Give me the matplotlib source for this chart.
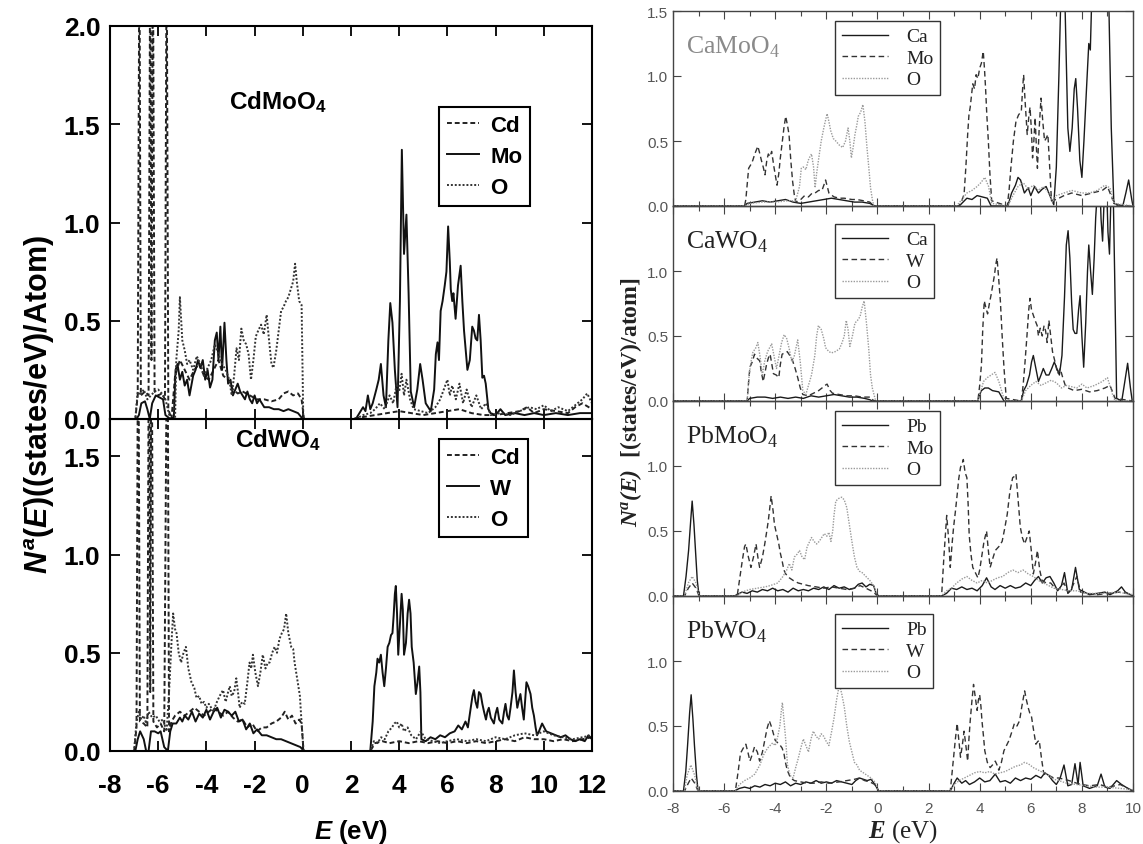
import numpy as np
import matplotlib.pyplot as plt
from matplotlib.ticker import MultipleLocator
from matplotlib.font_manager import FontProperties

plt.rcParams['font.family'] = 'Liberation Sans'
plt.rcParams['mathtext.fontset'] = 'custom'
plt.rcParams['mathtext.rm'] = 'Liberation Sans:bold'
plt.rcParams['mathtext.it'] = 'Liberation Sans:italic:bold'
plt.rcParams['mathtext.sf'] = 'Liberation Serif:italic:bold'
plt.rcParams['mathtext.bf'] = 'Liberation Serif'

# ---------------- data: left figure (E in eV, N in states/eV/atom) ----------------
cdmoo4_cd = [(-8, 0), (-6.95, 0), (-6.85, 0.12), (-6.78, 2.5), (-6.72, 0.12), (-6.55, 0.14), (-6.4, 0.12),
             (-6.33, 2.5), (-6.28, 0.3), (-6.22, 2.5), (-6.15, 0.14), (-6.0, 0.12), (-5.85, 0.13), (-5.72, 0.1),
             (-5.65, 2.5), (-5.58, 0.05), (-5.45, 0.0), (-5.3, 0.22), (-5.1, 0.3), (-4.9, 0.25), (-4.7, 0.2),
             (-4.5, 0.25), (-4.3, 0.28), (-4.1, 0.22), (-3.9, 0.2), (-3.7, 0.25), (-3.5, 0.3), (-3.3, 0.22),
             (-3.1, 0.2), (-2.9, 0.15), (-2.7, 0.13), (-2.5, 0.14), (-2.2, 0.12), (-1.9, 0.1), (-1.6, 0.1),
             (-1.3, 0.09), (-1.0, 0.1), (-0.8, 0.13), (-0.6, 0.14), (-0.4, 0.12), (-0.2, 0.13), (-0.05, 0.1),
             (0.05, 0), (2.0, 0), (2.5, 0.01), (3.0, 0.02), (3.5, 0.03), (4.0, 0.04), (4.5, 0.03), (5.0, 0.02),
             (5.5, 0.03), (6.0, 0.04), (6.5, 0.05), (7.0, 0.03), (7.5, 0.02), (8.0, 0.02), (8.5, 0.03),
             (9.0, 0.04), (9.3, 0.06), (9.6, 0.03), (10.0, 0.05), (10.5, 0.04), (11.0, 0.03), (11.3, 0.06),
             (11.6, 0.08), (12, 0.05)]
cdmoo4_mo = [(-8, 0), (-6.9, 0), (-6.8, 0.02), (-6.7, 0.08), (-6.55, 0.09), (-6.45, 0.05), (-6.35, 0.0),
             (-6.25, 0.08), (-6.1, 0.12), (-5.95, 0.11), (-5.8, 0.1), (-5.7, 0.02), (-5.5, 0.0), (-5.35, 0.01),
             (-5.28, 0.25), (-5.2, 0.28), (-5.1, 0.2), (-5.0, 0.24), (-4.9, 0.17), (-4.8, 0.2), (-4.7, 0.12),
             (-4.55, 0.22), (-4.45, 0.25), (-4.35, 0.3), (-4.25, 0.26), (-4.15, 0.3), (-4.05, 0.2), (-3.95, 0.25),
             (-3.85, 0.16), (-3.75, 0.2), (-3.65, 0.4), (-3.57, 0.44), (-3.5, 0.3), (-3.42, 0.47), (-3.35, 0.25),
             (-3.25, 0.49), (-3.17, 0.3), (-3.1, 0.18), (-3.0, 0.2), (-2.9, 0.12), (-2.8, 0.15), (-2.7, 0.18),
             (-2.6, 0.14), (-2.5, 0.12), (-2.4, 0.1), (-2.3, 0.14), (-2.2, 0.1), (-2.1, 0.08), (-2.0, 0.12),
             (-1.9, 0.08), (-1.8, 0.1), (-1.6, 0.06), (-1.4, 0.06), (-1.2, 0.05), (-1.0, 0.05), (-0.8, 0.04),
             (-0.6, 0.05), (-0.4, 0.04), (-0.2, 0.03), (0, 0.0), (2.2, 0), (2.35, 0.03), (2.5, 0.06), (2.6, 0.04),
             (2.7, 0.12), (2.8, 0.05), (2.9, 0.08), (3.05, 0.15), (3.15, 0.2), (3.24, 0.28), (3.35, 0.12),
             (3.45, 0.06), (3.55, 0.4), (3.63, 0.59), (3.72, 0.49), (3.82, 0.25), (3.93, 0.06), (4.03, 0.6),
             (4.11, 1.37), (4.2, 0.84), (4.3, 1.04), (4.39, 0.64), (4.48, 0.14), (4.62, 0.06), (4.75, 0.15),
             (4.87, 0.28), (4.97, 0.2), (5.1, 0.08), (5.31, 0.04), (5.45, 0.15), (5.52, 0.33), (5.59, 0.39),
             (5.65, 0.3), (5.72, 0.55), (5.8, 0.6), (5.89, 0.68), (5.96, 0.75), (6.03, 0.98), (6.1, 0.8),
             (6.14, 0.66), (6.2, 0.6), (6.25, 0.64), (6.34, 0.51), (6.44, 0.68), (6.55, 0.78), (6.62, 0.6),
             (6.69, 0.45), (6.76, 0.35), (6.83, 0.25), (6.93, 0.3), (7.03, 0.47), (7.1, 0.45), (7.17, 0.41),
             (7.24, 0.4), (7.31, 0.53), (7.38, 0.4), (7.45, 0.21), (7.52, 0.22), (7.59, 0.18), (7.7, 0.05),
             (7.79, 0.03), (8.0, 0.02), (8.2, 0.05), (8.4, 0.02), (8.8, 0.03), (9.2, 0.02), (9.6, 0.03),
             (10.0, 0.02), (10.5, 0.03), (11.0, 0.02), (11.5, 0.03), (12, 0.03)]
cdmoo4_o = [(-8, 0), (-6.95, 0), (-6.85, 0.14), (-6.75, 0.12), (-6.6, 0.15), (-6.45, 0.1), (-6.3, 0.12),
            (-6.15, 0.14), (-6.0, 0.15), (-5.85, 0.13), (-5.7, 0.1), (-5.5, 0.0), (-5.3, 0.0), (-5.25, 0.3),
            (-5.15, 0.45), (-5.1, 0.62), (-5.0, 0.4), (-4.9, 0.35), (-4.8, 0.28), (-4.7, 0.3), (-4.55, 0.25),
            (-4.4, 0.32), (-4.25, 0.28), (-4.1, 0.22), (-3.95, 0.26), (-3.8, 0.3), (-3.65, 0.38), (-3.5, 0.33),
            (-3.35, 0.28), (-3.2, 0.25), (-3.05, 0.2), (-2.95, 0.12), (-2.85, 0.22), (-2.75, 0.36), (-2.65, 0.3),
            (-2.55, 0.46), (-2.45, 0.4), (-2.35, 0.38), (-2.25, 0.33), (-2.15, 0.2), (-2.05, 0.3), (-1.95, 0.42),
            (-1.85, 0.45), (-1.73, 0.48), (-1.62, 0.43), (-1.5, 0.53), (-1.4, 0.4), (-1.3, 0.28), (-1.22, 0.26),
            (-1.1, 0.35), (-1.0, 0.45), (-0.9, 0.55), (-0.8, 0.57), (-0.7, 0.6), (-0.6, 0.62), (-0.5, 0.66),
            (-0.4, 0.7), (-0.32, 0.79), (-0.25, 0.7), (-0.15, 0.6), (-0.05, 0.58), (0.02, 0.0), (2.2, 0),
            (2.5, 0.02), (2.8, 0.03), (3.0, 0.05), (3.2, 0.08), (3.4, 0.05), (3.6, 0.12), (3.75, 0.08),
            (3.9, 0.18), (4.0, 0.14), (4.1, 0.23), (4.2, 0.12), (4.3, 0.2), (4.45, 0.1), (4.6, 0.05), (4.9, 0.04),
            (5.2, 0.03), (5.5, 0.06), (5.7, 0.1), (5.85, 0.15), (6.0, 0.2), (6.1, 0.12), (6.2, 0.17), (6.35, 0.1),
            (6.5, 0.18), (6.65, 0.08), (6.8, 0.15), (7.0, 0.06), (7.2, 0.12), (7.4, 0.05), (7.6, 0.08),
            (7.8, 0.02), (8.2, 0.03), (8.6, 0.02), (9.0, 0.04), (9.4, 0.06), (9.7, 0.05), (10.0, 0.07),
            (10.3, 0.04), (10.6, 0.06), (11.0, 0.04), (11.3, 0.07), (11.6, 0.1), (11.8, 0.13), (12, 0.08)]

cdwo4_cd = [(-8, 0), (-7.0, 0), (-6.9, 0.12), (-6.83, 2.5), (-6.76, 0.15), (-6.6, 0.14), (-6.45, 0.12),
            (-6.38, 2.5), (-6.33, 0.3), (-6.28, 2.5), (-6.2, 0.15), (-6.05, 0.12), (-5.9, 0.14), (-5.75, 0.1),
            (-5.62, 2.5), (-5.55, 0.1), (-5.45, 0.15), (-5.3, 0.18), (-5.1, 0.2), (-4.9, 0.18), (-4.7, 0.2),
            (-4.5, 0.22), (-4.3, 0.2), (-4.1, 0.18), (-3.9, 0.2), (-3.7, 0.22), (-3.5, 0.2), (-3.3, 0.18),
            (-3.1, 0.2), (-2.9, 0.17), (-2.7, 0.15), (-2.5, 0.16), (-2.3, 0.12), (-2.1, 0.14), (-1.9, 0.1),
            (-1.7, 0.12), (-1.5, 0.12), (-1.3, 0.14), (-1.1, 0.15), (-0.9, 0.17), (-0.75, 0.2), (-0.6, 0.16),
            (-0.45, 0.18), (-0.3, 0.14), (-0.15, 0.16), (-0.05, 0.14), (0.03, 0.0), (2.8, 0), (3.0, 0.04),
            (3.3, 0.05), (3.6, 0.04), (4.0, 0.05), (4.4, 0.04), (4.8, 0.05), (5.2, 0.04), (5.6, 0.05), (6.0, 0.04),
            (6.4, 0.05), (6.8, 0.04), (7.2, 0.05), (7.6, 0.04), (8.0, 0.05), (8.4, 0.06), (8.8, 0.05),
            (9.2, 0.07), (9.6, 0.06), (10.0, 0.06), (10.4, 0.05), (10.8, 0.06), (11.2, 0.05), (11.6, 0.06),
            (12, 0.07)]
cdwo4_w = [(-8, 0), (-6.95, 0), (-6.85, 0.06), (-6.75, 0.1), (-6.6, 0.06), (-6.5, 0.0), (-6.4, 0.0), (-6.3, 0.1),
           (-6.15, 0.1), (-6.0, 0.09), (-5.9, 0.1), (-5.75, 0.02), (-5.6, 0.0), (-5.5, 0.1), (-5.4, 0.14),
           (-5.25, 0.14), (-5.1, 0.17), (-5.0, 0.15), (-4.9, 0.18), (-4.75, 0.16), (-4.6, 0.2), (-4.45, 0.15),
           (-4.3, 0.19), (-4.15, 0.17), (-4.0, 0.21), (-3.85, 0.16), (-3.7, 0.2), (-3.55, 0.22), (-3.4, 0.17),
           (-3.25, 0.21), (-3.1, 0.2), (-2.95, 0.18), (-2.8, 0.2), (-2.65, 0.15), (-2.5, 0.16), (-2.35, 0.11),
           (-2.2, 0.14), (-2.05, 0.09), (-1.9, 0.11), (-1.7, 0.08), (-1.5, 0.08), (-1.3, 0.07), (-1.1, 0.06),
           (-0.9, 0.06), (-0.7, 0.05), (-0.5, 0.04), (-0.3, 0.03), (-0.1, 0.02), (0.05, 0.0), (2.8, 0),
           (2.9, 0.15), (2.97, 0.33), (3.05, 0.4), (3.1, 0.47), (3.17, 0.45), (3.24, 0.49), (3.31, 0.4),
           (3.38, 0.33), (3.45, 0.42), (3.52, 0.53), (3.59, 0.55), (3.66, 0.59), (3.72, 0.6), (3.77, 0.69),
           (3.82, 0.8), (3.86, 0.84), (3.91, 0.7), (3.96, 0.49), (4.03, 0.65), (4.1, 0.8), (4.15, 0.72),
           (4.2, 0.49), (4.28, 0.55), (4.35, 0.7), (4.41, 0.77), (4.47, 0.7), (4.52, 0.53), (4.6, 0.45),
           (4.69, 0.29), (4.76, 0.35), (4.83, 0.43), (4.88, 0.3), (4.92, 0.06), (5.1, 0.05), (5.3, 0.07),
           (5.5, 0.06), (5.7, 0.08), (5.9, 0.07), (6.1, 0.09), (6.3, 0.1), (6.45, 0.13), (6.6, 0.11),
           (6.75, 0.15), (6.85, 0.12), (6.97, 0.22), (7.04, 0.28), (7.1, 0.31), (7.17, 0.25), (7.24, 0.22),
           (7.31, 0.3), (7.38, 0.29), (7.45, 0.24), (7.52, 0.2), (7.6, 0.16), (7.66, 0.2), (7.72, 0.22),
           (7.8, 0.17), (7.93, 0.14), (8.0, 0.19), (8.07, 0.22), (8.15, 0.16), (8.28, 0.14), (8.35, 0.2),
           (8.41, 0.24), (8.48, 0.18), (8.55, 0.16), (8.62, 0.22), (8.7, 0.3), (8.76, 0.41), (8.83, 0.3),
           (8.9, 0.22), (8.97, 0.26), (9.03, 0.29), (9.1, 0.22), (9.17, 0.16), (9.22, 0.25), (9.28, 0.35),
           (9.35, 0.33), (9.45, 0.29), (9.52, 0.22), (9.59, 0.18), (9.66, 0.12), (9.72, 0.08), (9.8, 0.1),
           (9.93, 0.14), (10.1, 0.1), (10.3, 0.09), (10.5, 0.08), (10.7, 0.07), (10.9, 0.08), (11.1, 0.06),
           (11.3, 0.05), (11.5, 0.06), (11.7, 0.05), (11.85, 0.08), (12, 0.06)]
cdwo4_o = [(-8, 0), (-7.0, 0), (-6.9, 0.15), (-6.8, 0.2), (-6.7, 0.16), (-6.6, 0.18), (-6.5, 0.14), (-6.4, 0.2),
           (-6.25, 0.17), (-6.1, 0.18), (-5.95, 0.15), (-5.8, 0.16), (-5.65, 0.1), (-5.55, 0.3), (-5.45, 0.55),
           (-5.38, 0.7), (-5.3, 0.62), (-5.24, 0.6), (-5.15, 0.5), (-5.05, 0.45), (-4.95, 0.5), (-4.85, 0.53),
           (-4.75, 0.42), (-4.62, 0.35), (-4.5, 0.32), (-4.41, 0.27), (-4.3, 0.28), (-4.2, 0.24), (-4.1, 0.25),
           (-4.0, 0.22), (-3.9, 0.24), (-3.8, 0.22), (-3.7, 0.2), (-3.6, 0.24), (-3.45, 0.28), (-3.31, 0.31),
           (-3.2, 0.25), (-3.1, 0.3), (-3.03, 0.33), (-2.95, 0.28), (-2.85, 0.3), (-2.76, 0.37), (-2.69, 0.3),
           (-2.62, 0.22), (-2.52, 0.25), (-2.41, 0.24), (-2.3, 0.35), (-2.21, 0.45), (-2.14, 0.42),
           (-2.07, 0.49), (-1.97, 0.4), (-1.86, 0.33), (-1.76, 0.4), (-1.66, 0.49), (-1.55, 0.42), (-1.45, 0.45),
           (-1.38, 0.45), (-1.27, 0.5), (-1.17, 0.53), (-1.07, 0.5), (-0.97, 0.57), (-0.87, 0.6), (-0.78, 0.62),
           (-0.69, 0.7), (-0.6, 0.6), (-0.48, 0.53), (-0.4, 0.52), (-0.34, 0.45), (-0.21, 0.35), (-0.12, 0.28),
           (-0.07, 0.18), (0.03, 0.0), (2.8, 0), (2.95, 0.05), (3.1, 0.04), (3.25, 0.07), (3.4, 0.06),
           (3.55, 0.1), (3.7, 0.12), (3.8, 0.14), (3.9, 0.15), (4.0, 0.12), (4.1, 0.14), (4.2, 0.1), (4.35, 0.12),
           (4.5, 0.08), (4.7, 0.06), (4.9, 0.1), (5.1, 0.06), (5.4, 0.05), (5.7, 0.04), (6.0, 0.05), (6.4, 0.06),
           (6.8, 0.05), (7.2, 0.06), (7.6, 0.05), (8.0, 0.07), (8.4, 0.06), (8.8, 0.08), (9.2, 0.09),
           (9.6, 0.08), (10.0, 0.1), (10.4, 0.08), (10.8, 0.07), (11.2, 0.06), (11.6, 0.07), (12, 0.08)]

# ---------------- data: right figure ----------------
camoo4_ca = [(-8, 0), (-5.2, 0), (-5.1, 0.02), (-4.8, 0.03), (-4.5, 0.04), (-4.2, 0.03), (-3.9, 0.04), (-3.6, 0.05),
             (-3.3, 0.03), (-3.0, 0.02), (-2.7, 0.03), (-2.4, 0.04), (-2.1, 0.05), (-1.8, 0.06), (-1.5, 0.05),
             (-1.2, 0.04), (-0.9, 0.03), (-0.6, 0.03), (-0.3, 0.02), (-0.1, 0.0), (3.2, 0), (3.35, 0.03),
             (3.5, 0.06), (3.7, 0.05), (3.9, 0.08), (4.1, 0.07), (4.3, 0.06), (4.45, 0.0), (5.1, 0), (5.25, 0.1),
             (5.4, 0.16), (5.5, 0.22), (5.6, 0.2), (5.75, 0.1), (5.9, 0.14), (6.0, 0.08), (6.15, 0.15),
             (6.3, 0.1), (6.45, 0.13), (6.6, 0.15), (6.75, 0.08), (6.9, 0.01), (7.0, 0.3), (7.1, 1.0), (7.2, 1.8),
             (7.3, 1.9), (7.38, 1.2), (7.45, 0.6), (7.53, 0.42), (7.62, 0.6), (7.7, 0.9), (7.76, 0.98),
             (7.83, 0.75), (7.92, 0.35), (8.0, 0.22), (8.08, 0.5), (8.18, 0.9), (8.27, 1.25), (8.33, 1.2),
             (8.4, 1.7), (8.6, 2.0), (8.9, 2.0), (9.05, 1.6), (9.15, 0.6), (9.25, 0.02), (9.6, 0), (9.72, 0.1),
             (9.83, 0.2), (9.95, 0.05), (10, 0)]
camoo4_mo = [(-8, 0), (-5.2, 0), (-5.15, 0.05), (-5.04, 0.29), (-4.95, 0.32), (-4.88, 0.35), (-4.8, 0.4),
             (-4.68, 0.46), (-4.6, 0.4), (-4.54, 0.35), (-4.47, 0.3), (-4.4, 0.24), (-4.33, 0.35), (-4.27, 0.4),
             (-4.2, 0.38), (-4.14, 0.42), (-4.05, 0.3), (-3.93, 0.16), (-3.86, 0.25), (-3.8, 0.37), (-3.72, 0.5),
             (-3.66, 0.6), (-3.59, 0.69), (-3.52, 0.62), (-3.46, 0.55), (-3.39, 0.35), (-3.32, 0.19),
             (-3.25, 0.08), (-3.19, 0.03), (-3.0, 0.05), (-2.85, 0.08), (-2.7, 0.07), (-2.55, 0.1), (-2.44, 0.1),
             (-2.3, 0.12), (-2.17, 0.12), (-2.08, 0.17), (-2.03, 0.2), (-1.95, 0.14), (-1.9, 0.1), (-1.7, 0.07),
             (-1.5, 0.06), (-1.3, 0.06), (-1.0, 0.05), (-0.8, 0.05), (-0.54, 0.04), (-0.3, 0.03), (-0.14, 0.0),
             (3.19, 0), (3.3, 0.04), (3.39, 0.09), (3.46, 0.3), (3.53, 0.55), (3.58, 0.7), (3.63, 0.76),
             (3.68, 0.85), (3.73, 0.94), (3.8, 0.9), (3.86, 1.01), (3.93, 0.98), (4.0, 1.06), (4.07, 1.1),
             (4.14, 1.19), (4.19, 1.05), (4.23, 0.91), (4.28, 0.7), (4.34, 0.5), (4.4, 0.25), (4.47, 0.04),
             (5.08, 0), (5.15, 0.12), (5.22, 0.29), (5.32, 0.5), (5.42, 0.65), (5.52, 0.7), (5.63, 0.73),
             (5.68, 0.9), (5.72, 1.01), (5.78, 0.8), (5.86, 0.55), (5.92, 0.68), (5.97, 0.76), (6.02, 0.6),
             (6.07, 0.37), (6.12, 0.5), (6.17, 0.68), (6.22, 0.45), (6.26, 0.29), (6.33, 0.6), (6.4, 0.83),
             (6.47, 0.65), (6.54, 0.5), (6.6, 0.52), (6.67, 0.55), (6.74, 0.3), (6.81, 0.04), (7.0, 0.05),
             (7.3, 0.08), (7.6, 0.1), (8.0, 0.08), (8.4, 0.1), (8.8, 0.12), (9.0, 0.15), (9.2, 0.05), (9.4, 0.0),
             (10, 0)]
camoo4_o = [(-8, 0), (-5.2, 0), (-5.0, 0.02), (-4.5, 0.03), (-4.0, 0.03), (-3.5, 0.04), (-3.2, 0.04),
            (-3.05, 0.15), (-2.98, 0.29), (-2.9, 0.3), (-2.8, 0.28), (-2.71, 0.35), (-2.64, 0.38), (-2.58, 0.4),
            (-2.5, 0.3), (-2.44, 0.14), (-2.38, 0.25), (-2.31, 0.35), (-2.2, 0.5), (-2.1, 0.6), (-2.03, 0.66),
            (-1.97, 0.71), (-1.9, 0.65), (-1.83, 0.58), (-1.73, 0.52), (-1.63, 0.5), (-1.5, 0.47), (-1.36, 0.45),
            (-1.25, 0.5), (-1.15, 0.6), (-1.08, 0.5), (-1.02, 0.37), (-0.95, 0.45), (-0.88, 0.55), (-0.81, 0.62),
            (-0.75, 0.69), (-0.66, 0.72), (-0.57, 0.78), (-0.49, 0.65), (-0.41, 0.45), (-0.34, 0.3),
            (-0.27, 0.14), (-0.2, 0.05), (-0.14, 0.0), (3.1, 0), (3.3, 0.05), (3.5, 0.1), (3.7, 0.12),
            (3.9, 0.15), (4.05, 0.18), (4.2, 0.22), (4.35, 0.15), (4.47, 0.02), (5.1, 0), (5.3, 0.08),
            (5.5, 0.15), (5.7, 0.18), (5.9, 0.13), (6.1, 0.16), (6.3, 0.12), (6.5, 0.15), (6.7, 0.1),
            (6.85, 0.03), (7.0, 0.08), (7.3, 0.1), (7.6, 0.12), (8.0, 0.1), (8.3, 0.1), (8.6, 0.12), (8.9, 0.16),
            (9.1, 0.14), (9.25, 0.02), (10, 0)]

cawo4_ca = [(-8, 0), (-5.1, 0), (-5.0, 0.02), (-4.7, 0.03), (-4.4, 0.03), (-4.1, 0.02), (-3.8, 0.03), (-3.5, 0.02),
            (-3.2, 0.03), (-2.9, 0.02), (-2.6, 0.04), (-2.3, 0.03), (-2.0, 0.04), (-1.7, 0.05), (-1.4, 0.04),
            (-1.1, 0.03), (-0.8, 0.03), (-0.5, 0.02), (-0.3, 0.01), (-0.2, 0.0), (3.93, 0), (4.0, 0.05),
            (4.07, 0.08), (4.2, 0.1), (4.34, 0.1), (4.5, 0.08), (4.75, 0.07), (4.95, 0.0), (5.63, 0), (5.72, 0.08),
            (5.83, 0.12), (5.95, 0.2), (6.03, 0.3), (6.1, 0.35), (6.2, 0.25), (6.3, 0.15), (6.4, 0.2),
            (6.49, 0.25), (6.6, 0.2), (6.71, 0.2), (6.82, 0.25), (6.92, 0.3), (7.02, 0.25), (7.12, 0.2),
            (7.22, 0.35), (7.32, 0.8), (7.39, 1.2), (7.46, 1.31), (7.53, 1.1), (7.6, 0.75), (7.66, 0.55),
            (7.73, 0.52), (7.8, 0.52), (7.87, 0.7), (7.93, 0.81), (8.0, 0.5), (8.07, 0.26), (8.15, 0.6),
            (8.22, 1.0), (8.27, 1.2), (8.34, 1.0), (8.41, 0.82), (8.48, 1.1), (8.54, 1.41), (8.6, 1.6),
            (8.68, 1.8), (8.75, 1.4), (8.81, 1.23), (8.88, 1.6), (8.95, 1.8), (9.02, 1.3), (9.08, 1.13),
            (9.14, 1.6), (9.2, 1.9), (9.28, 1.0), (9.36, 0.02), (9.56, 0), (9.68, 0.15), (9.79, 0.29),
            (9.9, 0.1), (9.97, 0.0), (10, 0)]
cawo4_w = [(-8, 0), (-5.1, 0), (-5.04, 0.15), (-4.99, 0.26), (-4.9, 0.3), (-4.81, 0.36), (-4.72, 0.33),
           (-4.61, 0.31), (-4.54, 0.22), (-4.47, 0.15), (-4.4, 0.22), (-4.34, 0.28), (-4.27, 0.33), (-4.2, 0.36),
           (-4.13, 0.28), (-4.07, 0.21), (-3.96, 0.2), (-3.86, 0.18), (-3.8, 0.28), (-3.73, 0.36), (-3.63, 0.37),
           (-3.53, 0.38), (-3.43, 0.35), (-3.32, 0.31), (-3.22, 0.25), (-3.12, 0.18), (-3.02, 0.1), (-2.92, 0.05),
           (-2.71, 0.04), (-2.5, 0.06), (-2.3, 0.08), (-2.17, 0.1), (-2.05, 0.12), (-1.97, 0.13), (-1.85, 0.08),
           (-1.76, 0.06), (-1.5, 0.05), (-1.2, 0.04), (-0.9, 0.04), (-0.6, 0.03), (-0.27, 0.03), (-0.14, 0.0),
           (3.93, 0), (4.0, 0.12), (4.07, 0.28), (4.12, 0.55), (4.18, 0.77), (4.24, 0.72), (4.31, 0.67),
           (4.38, 0.75), (4.45, 0.82), (4.52, 0.9), (4.58, 0.97), (4.63, 1.05), (4.68, 1.1), (4.74, 0.95),
           (4.81, 0.77), (4.88, 0.5), (4.95, 0.26), (5.04, 0.02), (5.63, 0), (5.7, 0.12), (5.76, 0.26),
           (5.85, 0.5), (5.92, 0.7), (5.97, 0.79), (6.03, 0.7), (6.1, 0.66), (6.17, 0.62), (6.25, 0.58),
           (6.3, 0.5), (6.37, 0.56), (6.45, 0.5), (6.52, 0.58), (6.58, 0.54), (6.64, 0.45), (6.71, 0.62),
           (6.78, 0.5), (6.85, 0.38), (6.95, 0.3), (7.05, 0.21), (7.15, 0.25), (7.25, 0.18), (7.35, 0.12),
           (7.46, 0.1), (7.7, 0.08), (8.0, 0.09), (8.3, 0.07), (8.6, 0.08), (8.9, 0.1), (9.1, 0.12), (9.3, 0.02),
           (10, 0)]
cawo4_o = [(-8, 0), (-5.1, 0), (-5.02, 0.2), (-4.95, 0.3), (-4.87, 0.38), (-4.78, 0.4), (-4.68, 0.45), (-4.6, 0.35),
           (-4.5, 0.2), (-4.42, 0.3), (-4.3, 0.38), (-4.14, 0.44), (-4.05, 0.35), (-3.95, 0.25), (-3.85, 0.35),
           (-3.75, 0.45), (-3.65, 0.51), (-3.55, 0.48), (-3.45, 0.4), (-3.35, 0.3), (-3.25, 0.35), (-3.12, 0.47),
           (-3.02, 0.3), (-2.92, 0.08), (-2.8, 0.05), (-2.7, 0.12), (-2.58, 0.2), (-2.45, 0.35), (-2.38, 0.5),
           (-2.31, 0.58), (-2.2, 0.55), (-2.1, 0.48), (-2.03, 0.41), (-1.9, 0.38), (-1.8, 0.37), (-1.65, 0.38),
           (-1.49, 0.4), (-1.38, 0.45), (-1.3, 0.5), (-1.22, 0.62), (-1.15, 0.55), (-1.08, 0.42), (-0.98, 0.5),
           (-0.88, 0.6), (-0.78, 0.62), (-0.68, 0.65), (-0.6, 0.72), (-0.52, 0.77), (-0.43, 0.6), (-0.34, 0.4),
           (-0.27, 0.2), (-0.2, 0.1), (-0.07, 0.0), (3.93, 0), (4.05, 0.08), (4.15, 0.15), (4.3, 0.18),
           (4.45, 0.2), (4.6, 0.22), (4.75, 0.15), (4.9, 0.05), (5.0, 0.0), (5.63, 0), (5.8, 0.08), (6.0, 0.12),
           (6.2, 0.15), (6.4, 0.12), (6.6, 0.14), (6.8, 0.16), (7.0, 0.14), (7.2, 0.1), (7.4, 0.12), (7.6, 0.11),
           (7.8, 0.1), (8.0, 0.13), (8.2, 0.1), (8.5, 0.12), (8.8, 0.15), (9.0, 0.18), (9.2, 0.05), (9.3, 0.0),
           (10, 0)]

pbmoo4_pb = [(-8, 0), (-7.59, 0), (-7.49, 0.15), (-7.39, 0.35), (-7.3, 0.6), (-7.25, 0.73), (-7.18, 0.55),
             (-7.12, 0.35), (-7.05, 0.12), (-6.98, 0.0), (-5.6, 0), (-5.5, 0.01), (-5.3, 0.03), (-5.1, 0.02),
             (-4.9, 0.04), (-4.7, 0.03), (-4.5, 0.05), (-4.3, 0.04), (-4.1, 0.06), (-3.9, 0.04), (-3.7, 0.05),
             (-3.5, 0.03), (-3.3, 0.06), (-3.1, 0.04), (-2.9, 0.05), (-2.7, 0.04), (-2.5, 0.06), (-2.3, 0.05),
             (-2.1, 0.07), (-1.9, 0.05), (-1.7, 0.08), (-1.5, 0.06), (-1.3, 0.07), (-1.1, 0.05), (-0.9, 0.06),
             (-0.75, 0.09), (-0.6, 0.1), (-0.45, 0.07), (-0.3, 0.09), (-0.15, 0.08), (-0.05, 0.02), (0.05, 0.0),
             (2.5, 0), (2.7, 0.02), (2.9, 0.06), (3.1, 0.05), (3.3, 0.07), (3.5, 0.05), (3.7, 0.06), (3.9, 0.04),
             (4.1, 0.08), (4.27, 0.14), (4.45, 0.07), (4.6, 0.05), (4.8, 0.08), (5.0, 0.06), (5.2, 0.08),
             (5.4, 0.06), (5.6, 0.07), (5.8, 0.1), (6.0, 0.08), (6.15, 0.12), (6.3, 0.15), (6.45, 0.1),
             (6.6, 0.14), (6.75, 0.15), (6.9, 0.1), (7.05, 0.04), (7.2, 0.08), (7.32, 0.18), (7.45, 0.02),
             (7.6, 0.05), (7.75, 0.22), (7.9, 0.05), (8.1, 0.03), (8.3, 0.01), (8.6, 0.02), (8.9, 0.03),
             (9.1, 0.01), (9.4, 0.04), (9.55, 0.07), (9.7, 0.03), (9.9, 0.01), (10, 0)]
pbmoo4_mo = [(-8, 0), (-7.55, 0), (-7.4, 0.06), (-7.25, 0.1), (-7.1, 0.06), (-6.98, 0.0), (-5.49, 0), (-5.4, 0.12),
             (-5.29, 0.27), (-5.2, 0.38), (-5.15, 0.4), (-5.05, 0.3), (-4.95, 0.22), (-4.85, 0.3), (-4.75, 0.4),
             (-4.68, 0.3), (-4.61, 0.22), (-4.5, 0.3), (-4.41, 0.4), (-4.33, 0.5), (-4.27, 0.58), (-4.2, 0.7),
             (-4.16, 0.77), (-4.08, 0.65), (-4.03, 0.55), (-3.95, 0.48), (-3.86, 0.4), (-3.8, 0.33), (-3.73, 0.27),
             (-3.66, 0.2), (-3.59, 0.17), (-3.45, 0.14), (-3.3, 0.12), (-3.1, 0.1), (-2.9, 0.09), (-2.71, 0.08),
             (-2.4, 0.07), (-2.1, 0.06), (-1.8, 0.07), (-1.5, 0.06), (-1.2, 0.05), (-0.9, 0.06), (-0.68, 0.08),
             (-0.45, 0.06), (-0.25, 0.04), (-0.1, 0.02), (0.0, 0.0), (2.51, 0), (2.6, 0.3), (2.71, 0.62),
             (2.78, 0.45), (2.85, 0.22), (2.92, 0.4), (2.98, 0.53), (3.05, 0.65), (3.12, 0.78), (3.18, 0.9),
             (3.25, 0.99), (3.32, 1.02), (3.36, 1.05), (3.43, 0.95), (3.5, 0.91), (3.55, 0.7), (3.59, 0.47),
             (3.66, 0.32), (3.73, 0.22), (3.83, 0.18), (3.93, 0.14), (4.0, 0.2), (4.07, 0.29), (4.17, 0.42),
             (4.27, 0.5), (4.34, 0.35), (4.41, 0.22), (4.5, 0.28), (4.61, 0.35), (4.75, 0.38), (4.88, 0.42),
             (4.98, 0.52), (5.08, 0.63), (5.18, 0.8), (5.29, 0.91), (5.36, 0.92), (5.42, 0.94), (5.5, 0.75),
             (5.59, 0.53), (5.67, 0.45), (5.76, 0.4), (5.85, 0.45), (5.94, 0.5), (6.02, 0.35), (6.1, 0.17),
             (6.18, 0.25), (6.26, 0.35), (6.35, 0.2), (6.44, 0.12), (6.6, 0.1), (6.78, 0.1), (6.95, 0.06),
             (7.1, 0.05), (7.3, 0.1), (7.45, 0.03), (7.6, 0.06), (7.8, 0.15), (7.95, 0.03), (8.2, 0.02),
             (8.6, 0.01), (9.0, 0.02), (9.5, 0.03), (10, 0.01)]
pbmoo4_o = [(-8, 0), (-7.55, 0), (-7.4, 0.1), (-7.25, 0.15), (-7.1, 0.1), (-6.98, 0.0), (-5.5, 0), (-5.3, 0.03),
            (-5.0, 0.05), (-4.7, 0.06), (-4.4, 0.07), (-4.2, 0.08), (-3.9, 0.1), (-3.7, 0.15), (-3.55, 0.2),
            (-3.45, 0.25), (-3.35, 0.2), (-3.25, 0.3), (-3.15, 0.32), (-3.05, 0.35), (-2.95, 0.3), (-2.85, 0.28),
            (-2.75, 0.38), (-2.65, 0.42), (-2.58, 0.45), (-2.48, 0.42), (-2.38, 0.4), (-2.28, 0.42),
            (-2.18, 0.45), (-2.08, 0.48), (-1.98, 0.46), (-1.9, 0.49), (-1.82, 0.42), (-1.75, 0.5), (-1.7, 0.62),
            (-1.63, 0.73), (-1.52, 0.75), (-1.4, 0.76), (-1.3, 0.74), (-1.2, 0.68), (-1.1, 0.55), (-1.0, 0.42),
            (-0.9, 0.3), (-0.8, 0.22), (-0.7, 0.19), (-0.6, 0.18), (-0.45, 0.15), (-0.3, 0.12), (-0.15, 0.08),
            (0.0, 0.0), (2.5, 0), (2.7, 0.04), (2.9, 0.06), (3.1, 0.1), (3.3, 0.13), (3.5, 0.15), (3.7, 0.12),
            (3.9, 0.1), (4.1, 0.12), (4.3, 0.1), (4.5, 0.12), (4.7, 0.14), (4.9, 0.15), (5.1, 0.18), (5.3, 0.2),
            (5.5, 0.18), (5.7, 0.2), (5.9, 0.17), (6.1, 0.15), (6.3, 0.12), (6.5, 0.1), (6.7, 0.08), (6.9, 0.06),
            (7.2, 0.05), (7.5, 0.04), (7.8, 0.04), (8.2, 0.02), (8.8, 0.02), (9.4, 0.03), (10, 0.01)]

pbwo4_pb = [(-8, 0), (-7.59, 0), (-7.5, 0.15), (-7.43, 0.35), (-7.35, 0.6), (-7.29, 0.74), (-7.22, 0.55),
            (-7.16, 0.35), (-7.08, 0.12), (-7.02, 0.0), (-5.6, 0), (-5.4, 0.02), (-5.2, 0.03), (-5.0, 0.02),
            (-4.8, 0.04), (-4.6, 0.03), (-4.4, 0.05), (-4.2, 0.04), (-4.0, 0.06), (-3.8, 0.05), (-3.6, 0.07),
            (-3.4, 0.04), (-3.2, 0.06), (-3.0, 0.05), (-2.8, 0.07), (-2.6, 0.06), (-2.4, 0.08), (-2.2, 0.06),
            (-2.0, 0.07), (-1.8, 0.06), (-1.6, 0.08), (-1.4, 0.07), (-1.2, 0.06), (-1.0, 0.05), (-0.85, 0.08),
            (-0.7, 0.1), (-0.55, 0.09), (-0.4, 0.08), (-0.25, 0.09), (-0.1, 0.05), (0.05, 0.0), (2.85, 0),
            (3.0, 0.06), (3.12, 0.1), (3.3, 0.06), (3.45, 0.08), (3.6, 0.05), (3.8, 0.07), (4.0, 0.1), (4.2, 0.07),
            (4.4, 0.08), (4.61, 0.13), (4.8, 0.07), (5.0, 0.08), (5.2, 0.06), (5.4, 0.1), (5.6, 0.08), (5.8, 0.1),
            (6.0, 0.09), (6.2, 0.12), (6.4, 0.1), (6.55, 0.14), (6.7, 0.12), (6.85, 0.08), (7.0, 0.05),
            (7.15, 0.1), (7.3, 0.2), (7.45, 0.04), (7.6, 0.05), (7.73, 0.21), (7.85, 0.05), (7.93, 0.22),
            (8.05, 0.04), (8.3, 0.02), (8.6, 0.04), (8.75, 0.13), (8.9, 0.03), (9.1, 0.02), (9.36, 0.08),
            (9.55, 0.05), (9.8, 0.02), (10, 0)]
pbwo4_w = [(-8, 0), (-7.55, 0), (-7.4, 0.06), (-7.29, 0.1), (-7.15, 0.06), (-7.02, 0.0), (-5.56, 0), (-5.45, 0.15),
           (-5.36, 0.29), (-5.25, 0.33), (-5.15, 0.36), (-5.07, 0.3), (-4.99, 0.23), (-4.9, 0.28), (-4.81, 0.34),
           (-4.7, 0.3), (-4.61, 0.23), (-4.5, 0.3), (-4.41, 0.39), (-4.32, 0.48), (-4.23, 0.54), (-4.14, 0.49),
           (-4.07, 0.44), (-4.0, 0.39), (-3.9, 0.37), (-3.8, 0.35), (-3.73, 0.33), (-3.66, 0.29), (-3.6, 0.22),
           (-3.53, 0.16), (-3.4, 0.1), (-3.25, 0.08), (-3.0, 0.07), (-2.75, 0.06), (-2.5, 0.06), (-2.2, 0.07),
           (-1.9, 0.06), (-1.5, 0.07), (-1.2, 0.08), (-0.9, 0.09), (-0.7, 0.1), (-0.5, 0.08), (-0.3, 0.07),
           (-0.1, 0.05), (0.05, 0.0), (2.85, 0), (2.95, 0.2), (3.05, 0.4), (3.12, 0.52), (3.18, 0.4),
           (3.25, 0.26), (3.32, 0.35), (3.39, 0.46), (3.46, 0.35), (3.53, 0.23), (3.58, 0.4), (3.63, 0.54),
           (3.7, 0.7), (3.76, 0.82), (3.83, 0.72), (3.9, 0.62), (3.95, 0.7), (4.0, 0.74), (4.05, 0.65),
           (4.09, 0.54), (4.15, 0.42), (4.2, 0.31), (4.3, 0.22), (4.41, 0.18), (4.5, 0.2), (4.61, 0.23),
           (4.68, 0.2), (4.75, 0.16), (4.85, 0.22), (4.95, 0.31), (5.05, 0.35), (5.15, 0.39), (5.25, 0.45),
           (5.36, 0.52), (5.46, 0.5), (5.56, 0.54), (5.65, 0.65), (5.76, 0.77), (5.83, 0.7), (5.9, 0.64),
           (5.96, 0.6), (6.03, 0.57), (6.1, 0.48), (6.2, 0.36), (6.27, 0.38), (6.33, 0.39), (6.42, 0.25),
           (6.51, 0.13), (6.71, 0.12), (6.9, 0.1), (7.1, 0.1), (7.3, 0.09), (7.5, 0.08), (7.8, 0.06), (8.0, 0.05),
           (8.3, 0.04), (8.7, 0.05), (9.0, 0.03), (9.3, 0.04), (9.5, 0.05), (9.8, 0.02), (10, 0)]
pbwo4_o = [(-8, 0), (-7.55, 0), (-7.45, 0.12), (-7.3, 0.2), (-7.15, 0.12), (-7.02, 0.0), (-5.56, 0), (-5.4, 0.05),
           (-5.2, 0.08), (-5.0, 0.1), (-4.8, 0.13), (-4.6, 0.2), (-4.45, 0.28), (-4.3, 0.33), (-4.2, 0.35),
           (-4.1, 0.37), (-4.0, 0.35), (-3.9, 0.42), (-3.82, 0.5), (-3.76, 0.62), (-3.72, 0.68), (-3.66, 0.55),
           (-3.6, 0.42), (-3.52, 0.2), (-3.42, 0.12), (-3.3, 0.1), (-3.2, 0.18), (-3.1, 0.25), (-3.0, 0.33),
           (-2.9, 0.4), (-2.8, 0.35), (-2.7, 0.3), (-2.6, 0.4), (-2.51, 0.46), (-2.4, 0.42), (-2.3, 0.4),
           (-2.2, 0.44), (-2.1, 0.42), (-2.0, 0.38), (-1.9, 0.35), (-1.8, 0.45), (-1.7, 0.56), (-1.6, 0.7),
           (-1.49, 0.82), (-1.4, 0.75), (-1.3, 0.65), (-1.2, 0.5), (-1.1, 0.38), (-1.0, 0.3), (-0.9, 0.22),
           (-0.8, 0.2), (-0.7, 0.16), (-0.55, 0.14), (-0.4, 0.12), (-0.25, 0.1), (-0.1, 0.07), (0.05, 0.0),
           (2.85, 0), (3.0, 0.05), (3.2, 0.08), (3.4, 0.1), (3.6, 0.12), (3.8, 0.14), (4.0, 0.15), (4.2, 0.14),
           (4.4, 0.15), (4.6, 0.13), (4.8, 0.14), (5.0, 0.15), (5.2, 0.17), (5.4, 0.19), (5.6, 0.2), (5.75, 0.22),
           (5.9, 0.21), (6.1, 0.18), (6.3, 0.16), (6.5, 0.14), (6.7, 0.12), (6.9, 0.09), (7.1, 0.08), (7.4, 0.06),
           (7.8, 0.05), (8.2, 0.04), (8.6, 0.03), (9.0, 0.03), (9.5, 0.02), (10, 0.01)]

left_panels = [('CdMoO$_4$', ['Cd', 'Mo', 'O'], [cdmoo4_cd, cdmoo4_mo, cdmoo4_o], 2.0),
               ('CdWO$_4$', ['Cd', 'W', 'O'], [cdwo4_cd, cdwo4_w, cdwo4_o], 1.69)]
right_panels = [('CaMoO$_\\mathbf{4}$', ['Ca', 'Mo', 'O'], [camoo4_ca, camoo4_mo, camoo4_o], '#8a8a8a'),
                ('CaWO$_\\mathbf{4}$', ['Ca', 'W', 'O'], [cawo4_ca, cawo4_w, cawo4_o], '#222222'),
                ('PbMoO$_\\mathbf{4}$', ['Pb', 'Mo', 'O'], [pbmoo4_pb, pbmoo4_mo, pbmoo4_o], '#222222'),
                ('PbWO$_\\mathbf{4}$', ['Pb', 'W', 'O'], [pbwo4_pb, pbwo4_w, pbwo4_o], '#222222')]

left_xticks = [-8, -6, -4, -2, 0, 2, 4, 6, 8, 10, 12]
right_xticks = [-8, -6, -4, -2, 0, 2, 4, 6, 8, 10]

fig = plt.figure(figsize=(11.43, 8.45), dpi=100)
W, H = 1143, 845

sans = 'Liberation Sans'
tick_fp = FontProperties(family=sans, weight='bold', size=19)

left_styles = [dict(color='#222222', lw=1.4, ls=(0, (2.5, 1.5))),
               dict(color='#111111', lw=1.4, ls='-'),
               dict(color='#333333', lw=1.4, ls=(0, (1, 1)))]

# left figure: two stacked panels
left_boxes = [(27, 420), (420, 752)]
for i, (title, names, curves, ytop) in enumerate(left_panels):
    top, bot = left_boxes[i]
    ax = fig.add_axes([110 / W, 1 - bot / H, 482 / W, (bot - top) / H])
    for curve, name, st in zip(curves, names, left_styles):
        e, n = np.array(curve).T
        ax.plot(e, n, label=name, **st)
    ax.set_xlim(-8, 12)
    ax.set_ylim(0, ytop)
    yt = [0, 0.5, 1.0, 1.5, 2.0] if ytop >= 2 else [0, 0.5, 1.0, 1.5]
    ax.set_yticks(yt, ['%.1f' % v for v in yt])
    ax.set_xticks(left_xticks, [str(v) for v in left_xticks] if i == 1 else [])
    ax.tick_params(direction='in', length=7, width=1.3, top=True, right=True)
    ax.tick_params(axis='y', pad=7)
    ax.tick_params(axis='x', pad=16)
    for lab in ax.get_xticklabels() + ax.get_yticklabels():
        lab.set_fontproperties(tick_fp)
    for s in ax.spines.values():
        s.set_linewidth(1.5)
    ax.patch.set_alpha(0)
    ty = 0.81 if i == 0 else 0.94
    ax.text(0.348, ty, title, transform=ax.transAxes, ha='center', va='center',
            fontsize=17.5, fontweight='bold', family=sans)
    ly = 0.794 if i == 0 else 0.94
    leg = ax.legend(loc='upper left', bbox_to_anchor=(0.683, ly), borderaxespad=0, fancybox=False,
                    framealpha=1, edgecolor='black', handlelength=1.45, labelspacing=0.45, borderpad=0.35,
                    handletextpad=0.5, prop=FontProperties(family=sans, weight='bold', size=16))
    leg.get_frame().set_linewidth(1.5)

fig.text(40 / W, 1 - 405 / H, '$N^{a}(E)$((states/eV)/Atom)', rotation=90, ha='center', va='center',
         fontsize=22, fontweight='bold')
fig.text(351 / W, 1 - 832 / H, '$E$ (eV)', ha='center', va='center', fontsize=18.5, fontweight='bold')

# right figure: four stacked panels
right_styles = [dict(color='#1a1a1a', lw=1.0, ls='-'),
                dict(color='#333333', lw=1.0, ls=(0, (4, 2.5))),
                dict(color='#9a9a9a', lw=1.0, ls=(0, (1, 1)))]
serif = 'Liberation Serif'
legend_tops = [0.949, 0.908, 0.949, 0.908]
for i, (title, names, curves, tcol) in enumerate(right_panels):
    top = 12 + 195 * i
    ax = fig.add_axes([673 / W, 1 - (top + 195) / H, 460 / W, 195 / H])
    for curve, name, st in zip(curves, names, right_styles):
        e, n = np.array(curve).T
        ax.plot(e, n, label=name, **st)
    ax.set_xlim(-8, 10)
    ax.set_ylim(0, 1.5)
    yt = [0, 0.5, 1.0, 1.5] if i == 0 else [0, 0.5, 1.0]
    ax.set_yticks(yt, ['%.1f' % v for v in yt])
    ax.yaxis.set_minor_locator(MultipleLocator(0.5))
    ax.set_xticks(right_xticks, [str(v) for v in right_xticks] if i == 3 else [])
    ax.xaxis.set_minor_locator(MultipleLocator(1))
    ax.tick_params(which='both', direction='in', top=True, right=True, width=0.8, color='#444444')
    ax.tick_params(which='major', length=6, labelsize=11, labelcolor='#555555')
    ax.tick_params(axis='x', which='major', pad=7)
    ax.tick_params(which='minor', length=3.5)
    for s in ax.spines.values():
        s.set_linewidth(1.0)
        s.set_color('#444444')
    ax.patch.set_alpha(0)
    ax.text(0.028, 0.82, title, transform=ax.transAxes, ha='left', va='center',
            fontsize=18.5, family=serif, color=tcol)
    leg = ax.legend(loc='upper left', bbox_to_anchor=(0.352, legend_tops[i]), borderaxespad=0,
                    fancybox=False, framealpha=1, edgecolor='#333333', handlelength=2.4, labelspacing=0.2,
                    borderpad=0.35, handletextpad=0.9, prop=FontProperties(family=serif, size=14))
    leg.get_frame().set_linewidth(1.0)
    for t in leg.get_texts():
        t.set_color('#222222')

fig.text(631 / W, 1 - 402 / H, r'$\mathsf{N^{a}(E)}$  [(states/eV)/atom]', rotation=90, ha='center',
         va='center', fontsize=17, family=serif, fontweight='bold', color='#222222')
fig.text(903 / W, 1 - 832 / H, r'$\mathsf{E}$ (eV)', ha='center', va='center', fontsize=18,
         family=serif, color='#222222')

fig.savefig('out.png', dpi=100, facecolor='white')
